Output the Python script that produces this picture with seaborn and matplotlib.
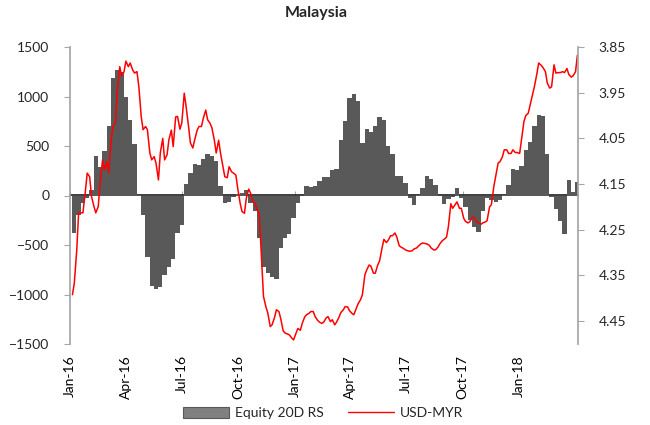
import numpy as np
import pandas as pd
import seaborn as sns
import matplotlib.pyplot as plt
import matplotlib.dates as mdates
from matplotlib.patches import Patch
from matplotlib.lines import Line2D

# weekly readings (Fridays), Jan-16 .. Mar-18
fridays = pd.date_range("2016-01-08", periods=118, freq="7D")
tuesdays = fridays - pd.Timedelta(days=3)

equity_rs = [
    -376, -200, -80, -30, 60, 400, 290, 450, 700, 1190,
    1270, 1250, 1000, 760, 520, 10, -200, -620, -910, -940,
    -920, -800, -720, -640, -380, -300, 120, 230, 320, 305,
    370, 420, 400, 350, 100, -75, -70, -20, 20, 30,
    60, -75, -160, -430, -720, -780, -820, -840, -530, -430,
    -385, -225, -80, 0, 100, 90, 100, 150, 190, 190,
    255, 270, 560, 755, 980, 1030, 950, 530, 670, 640,
    700, 790, 760, 500, 420, 200, 200, 130, -30, -100,
    10, 80, 200, 170, 105, 0, -90, -40, -20, 75,
    -30, -120, -245, -320, -370, -160, -30, -45, -65, -45,
    10, 110, 270, 260, 300, 460, 540, 700, 810, 800,
    420, -20, -140, -260, -390, 160, 40, 140,
]

# USD-MYR, Friday closes
fx_fri = [
    4.367, 4.213, 4.213, 4.126, 4.177, 4.213, 4.148, 4.119, 4.126, 4.024,
    3.943, 3.914, 3.881, 3.885, 3.907, 3.936, 4.031, 4.031, 4.097, 4.104,
    4.082, 4.097, 4.053, 4.068, 4.002, 4.016, 3.980, 4.060, 4.053, 4.024,
    4.006, 4.009, 4.027, 4.082, 4.082, 4.134, 4.112, 4.126, 4.159, 4.210,
    4.181, 4.170, 4.192, 4.214, 4.396, 4.432, 4.458, 4.425, 4.444, 4.476,
    4.480, 4.491, 4.466, 4.455, 4.436, 4.429, 4.440, 4.452, 4.452, 4.440,
    4.447, 4.452, 4.431, 4.418, 4.427, 4.436, 4.412, 4.392, 4.338, 4.330,
    4.345, 4.318, 4.271, 4.273, 4.263, 4.266, 4.288, 4.294, 4.297, 4.292,
    4.286, 4.279, 4.281, 4.290, 4.294, 4.281, 4.271, 4.243, 4.203, 4.189,
    4.203, 4.232, 4.232, 4.223, 4.235, 4.235, 4.230, 4.195, 4.133, 4.101,
    4.075, 4.083, 4.075, 4.081, 4.053, 4.000, 3.977, 3.937, 3.885, 3.895,
    3.929, 3.937, 3.907, 3.906, 3.906, 3.910, 3.913, 3.868,
]

# USD-MYR, Tuesday closes
fx_tue = [
    4.392, 4.294, 4.213, 4.166, 4.134, 4.199, 4.199, 4.097, 4.101, 4.053,
    4.016, 3.893, 3.904, 3.893, 3.900, 3.904, 4.003, 4.024, 4.082, 4.090,
    4.141, 4.050, 4.086, 4.032, 4.003, 4.030, 3.951, 4.024, 4.071, 4.032,
    4.024, 3.988, 4.017, 4.054, 4.054, 4.112, 4.136, 4.123, 4.130, 4.192,
    4.214, 4.161, 4.189, 4.207, 4.319, 4.419, 4.462, 4.442, 4.429, 4.471,
    4.478, 4.487, 4.476, 4.470, 4.441, 4.433, 4.429, 4.448, 4.455, 4.443,
    4.451, 4.458, 4.441, 4.425, 4.419, 4.433, 4.422, 4.403, 4.349, 4.327,
    4.345, 4.327, 4.290, 4.278, 4.263, 4.257, 4.285, 4.291, 4.296, 4.296,
    4.290, 4.281, 4.280, 4.284, 4.294, 4.288, 4.274, 4.266, 4.193, 4.195,
    4.203, 4.225, 4.235, 4.223, 4.233, 4.238, 4.233, 4.200, 4.155, 4.104,
    4.090, 4.075, 4.083, 4.081, 4.083, 4.013, 3.995, 3.954, 3.909, 3.890,
    3.904, 3.940, 3.889, 3.906, 3.904, 3.897, 3.916, 3.904,
]

bars = pd.DataFrame({"date": fridays, "rs": equity_rs})
fx = pd.concat([
    pd.DataFrame({"date": tuesdays, "fx": fx_tue}),
    pd.DataFrame({"date": fridays, "fx": fx_fri}),
]).sort_values("date")

sns.set_theme(style="white")
plt.rcParams["font.family"] = ["Lato", "DejaVu Sans"]

fig = plt.figure(figsize=(6.5, 4.25), dpi=100)
ax = fig.add_axes([70 / 650, 1 - 344 / 425, 508 / 650, 297 / 425])
ax2 = ax.twinx()

ax.bar(bars["date"], bars["rs"], width=7, color="#595959", linewidth=0, zorder=2)
sns.lineplot(data=fx, x="date", y="fx", ax=ax2, color="#ff0000", linewidth=1.1)

ax.set_ylim(-1500, 1500)
ax.set_yticks(range(-1500, 1501, 500))
ax2.set_ylim(4.50, 3.85)
ax2.set_yticks([3.85, 3.95, 4.05, 4.15, 4.25, 4.35, 4.45])
ax2.set_yticklabels(["3.85", "3.95", "4.05", "4.15", "4.25", "4.35", "4.45"])
ax.set_xlim(pd.Timestamp("2016-01-02"), pd.Timestamp("2018-04-07"))

ax.set_xlabel("")
ax.set_ylabel("")
ax2.set_xlabel("")
ax2.set_ylabel("")

qticks = pd.date_range("2016-01-01", "2018-01-01", freq="QS")
ax.set_xticks(qticks)
ax.xaxis.set_major_formatter(mdates.DateFormatter("%b-%y"))
ax.tick_params(axis="x", length=0, labelsize=10, labelrotation=90, pad=8, colors="#000000")

# zero line with small quarter ticks
sec = ax.secondary_xaxis(0.5)
sec.set_xticks(qticks)
sec.set_xticklabels([])
sec.tick_params(axis="x", length=3, width=0.8, color="#a6a6a6", direction="out")
sec.spines["bottom"].set_color("#a6a6a6")
sec.spines["bottom"].set_linewidth(1.0)

for a in (ax, ax2):
    for s in ("top", "bottom"):
        a.spines[s].set_visible(False)
ax.spines["right"].set_visible(False)
ax2.spines["left"].set_visible(False)
ax.spines["left"].set_color("#a6a6a6")
ax2.spines["right"].set_color("#a6a6a6")

ax.tick_params(axis="y", left=True, length=4, width=0.8, color="#a6a6a6", labelsize=10, pad=11)
ax2.tick_params(axis="y", right=True, length=4, width=0.8, color="#a6a6a6", labelsize=10, pad=11)

ax.set_zorder(ax2.get_zorder() - 1)
ax2.patch.set_visible(False)

fig.suptitle("Malaysia", x=0.487, y=0.985, fontsize=11.5, fontweight="bold")

handles = [
    Patch(facecolor="#808080", edgecolor="#595959", linewidth=0.8),
    Line2D([0], [0], color="#ff0000", linewidth=1.0),
]
fig.legend(handles, ["Equity 20D RS", "USD-MYR"], loc="center", bbox_to_anchor=(0.497, 0.028),
           ncol=2, frameon=False, fontsize=10, handlelength=3.3, handleheight=0.9,
           columnspacing=1.8, handletextpad=0.4)

fig.savefig("out.png", dpi=100)
